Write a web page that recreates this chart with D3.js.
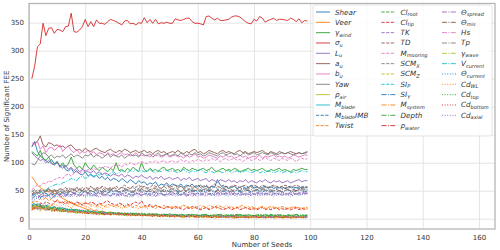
<!DOCTYPE html>
<html><head><meta charset="utf-8">
<script src="https://cdn.jsdelivr.net/npm/d3@7"></script>
<style>body{margin:0;background:#fff}svg{display:block}text{font-family:"DejaVu Sans",sans-serif}</style>
</head><body><svg id="c" width="500" height="250"></svg>
<script>
const seeds = d3.range(1, 100);
const xTicks = [0,20,40,60,80,100,120,140,160];
const yTicks = [0,50,100,150,200,250,300,350];

const labels = [
 {t:"Shear"},{t:"Veer"},{t:"γ",s:"wind"},{t:"σ",s:"u"},{t:"L",s:"u"},{t:"a",s:"u"},{t:"b",s:"u"},{t:"Yaw"},{t:"ρ",s:"air"},{t:"M",s:"blade"},{t:"M",s:"blade",a:"IMB"},{t:"Twist"},
 {t:"Cl",s:"root"},{t:"Cl",s:"tip"},{t:"TK"},{t:"TD"},{t:"M",s:"mooring"},{t:"SCM",s:"X"},{t:"SCM",s:"Z"},{t:"SI",s:"P"},{t:"SI",s:"Y"},{t:"M",s:"system"},{t:"Depth"},{t:"ρ",s:"water"},
 {t:"Θ",s:"spread"},{t:"Θ",s:"mis"},{t:"Hs"},{t:"Tp"},{t:"γ",s:"wave"},{t:"V",s:"current"},{t:"Θ",s:"current"},{t:"Cd",s:"WL"},{t:"Cd",s:"top"},{t:"Cd",s:"bottom"},{t:"Cd",s:"axial"}
];

const shear=[128,138,120,112,108,104,100,106,98,102,92,96,88,85,90,82,86,80,78,84,76,80,74,78,72,76,70,74,68,72,70,66,72,68,64,70,66,62,68,64,66,60,64,62,66,58,62,60,64,58,62,60,58,62,56,60,58,62,56,58,60,56,58,54,58,56,70,60,56,58,54,56,58,54,56,58,54,56,60,55,57,54,56,58,55,57,54,56,55,57,54,56,58,55,56,54,57,55,56];
const veer=[75,68,60,56,52,50,48,50,45,46,40,36,34,30,28,26,24,22,20,18,16,18,14,16,12,14,12,10,12,10,9,11,8,10,9,7,9,8,10,7,8,6,8,7,9,6,7,5,7,6,5,7,6,4,6,5,7,4,6,5,4,6,5,3,5,4,6,3,5,4,3,5,4,6,3,5,4,2,4,3,5,3,4,2,4,3,5,3,4,2,4,3,5,3,4,2,4,3,4];
const gammaWind=[120,116,112,122,108,104,110,100,96,102,94,100,92,98,110,96,90,94,88,100,92,88,96,90,86,92,88,84,90,86,100,86,88,84,90,86,92,88,84,100,88,84,90,86,88,84,90,92,86,88,90,86,88,84,92,88,86,90,88,86,88,90,86,88,92,86,84,88,90,86,88,86,90,88,84,86,88,90,86,88,86,88,90,86,84,88,86,88,90,86,88,86,84,88,86,88,90,88,88];
const sigmaU=[250,272,307,312,349,327,340,341,331,338,337,334,343,344,367,334,333,337,343,356,343,352,343,355,349,349,347,352,356,354,352,349,346,353,354,348,349,346,350,349,359,350,356,349,356,348,350,349,351,349,349,357,355,354,356,358,358,352,349,349,348,346,361,362,358,355,358,354,354,355,356,360,362,362,360,356,352,349,348,356,353,361,358,351,354,356,358,354,356,356,355,354,358,356,352,357,350,354,353];
const lu=[118,112,108,104,106,100,104,98,96,100,94,90,96,88,92,86,90,84,88,86,84,82,86,80,84,78,82,80,76,80,78,76,80,74,78,76,72,76,74,78,74,72,76,70,74,72,76,70,72,74,70,72,74,68,72,70,74,68,70,72,68,70,72,66,70,68,64,70,68,66,70,66,68,64,68,66,70,64,68,66,64,68,66,70,66,64,68,66,68,64,66,68,64,66,68,70,66,68,68];
const au=[130,135,138,148,132,128,136,134,130,132,128,130,126,130,132,126,122,124,120,126,122,120,124,126,122,120,118,122,124,120,118,122,120,124,122,118,120,122,118,120,122,118,120,116,120,122,118,120,116,118,120,118,122,118,116,120,118,122,124,118,120,116,118,122,120,118,116,120,122,118,120,118,116,120,122,118,120,116,118,120,118,120,122,118,116,120,118,116,120,118,116,118,120,118,116,118,116,118,120];
const bu=[136,132,138,124,130,118,126,128,122,126,132,120,126,130,122,118,124,116,120,118,122,116,120,114,118,116,112,118,114,116,112,116,118,114,116,112,114,118,112,114,112,114,110,116,112,114,110,112,116,110,112,114,110,112,108,114,110,112,116,110,112,108,110,114,112,110,108,112,110,114,110,112,108,110,114,110,112,108,110,112,110,114,108,112,110,112,114,110,112,110,112,108,110,114,112,110,112,114,113];
const yaw=[98,96,104,112,118,116,110,114,108,112,110,114,108,112,116,110,114,112,108,114,112,116,110,114,112,108,112,116,110,114,112,110,114,108,112,116,112,114,110,118,114,112,116,110,114,118,112,114,116,112,114,116,112,118,114,112,116,114,118,114,116,112,114,118,116,114,112,116,118,114,116,118,114,116,112,116,118,114,116,118,114,116,118,116,114,118,116,114,116,118,116,118,116,114,116,118,116,117,118];
const rhoAir=[22,20,24,18,20,16,18,15,17,14,16,13,15,12,14,11,13,10,12,11,10,12,9,11,8,10,9,11,8,9,8,10,7,9,8,6,8,7,9,6,7,8,6,7,5,7,6,8,5,6,7,5,6,4,6,5,7,5,4,6,5,4,6,5,3,5,4,6,4,5,4,5,3,5,4,6,4,3,5,4,5,3,4,5,3,4,5,3,4,5,3,4,5,3,4,5,3,4,4];
const mBlade=[18,22,16,20,24,18,16,20,14,18,15,17,13,16,14,12,15,11,13,12,11,13,10,12,9,11,10,8,10,9,10,8,9,7,9,8,10,7,8,6,8,7,6,8,7,5,7,6,8,5,6,7,5,6,4,6,5,7,5,4,6,5,4,6,5,4,6,5,3,5,4,6,5,3,5,4,5,3,4,5,4,3,5,4,6,4,3,5,4,3,5,4,3,5,4,3,4,5,4];
const mBladeIMB=[25,28,22,26,20,24,22,18,22,20,18,20,16,18,15,17,14,16,13,15,12,14,11,13,10,12,11,9,11,10,9,11,8,10,9,7,9,8,7,9,7,8,6,8,7,6,8,5,7,6,5,7,6,5,7,4,6,5,4,6,5,4,6,5,3,5,4,6,4,3,5,4,3,5,4,6,3,4,5,3,4,5,3,4,3,5,4,3,5,4,3,4,5,3,4,3,5,4,3];
const twist=[28,32,30,36,34,38,32,36,30,34,30,28,32,26,30,28,24,28,26,30,26,24,28,22,26,24,22,26,24,22,24,22,26,20,24,22,20,24,22,20,22,20,24,22,18,22,20,24,20,22,20,18,22,20,24,22,20,18,22,20,18,22,20,18,22,20,24,22,20,18,20,22,18,20,22,24,20,18,22,20,18,20,22,18,20,22,20,18,20,22,20,18,20,22,18,20,18,20,20];
const clRoot=[20,24,26,22,25,20,23,19,21,18,20,17,19,16,18,15,17,14,16,13,15,12,14,11,13,12,10,12,11,9,11,10,8,10,9,11,8,10,9,7,9,8,10,7,9,8,6,8,7,9,7,8,6,8,7,5,7,8,6,7,6,8,7,5,7,6,8,6,5,7,6,7,5,6,8,6,5,7,6,5,7,6,5,7,6,8,6,5,7,6,5,7,6,5,7,6,5,6,6];
const clTip=[22,26,24,28,26,30,28,24,30,32,28,30,26,32,28,26,30,28,24,28,26,30,28,24,28,26,30,32,28,26,24,28,26,22,26,24,28,30,26,32,24,22,26,20,24,22,20,18,22,20,18,22,20,18,16,20,18,22,20,18,16,18,20,16,18,22,20,18,16,18,20,16,18,20,16,18,20,18,16,18,16,18,20,16,18,16,18,20,16,18,16,18,16,18,20,16,18,17,17];
const tk=[46,42,48,44,40,46,42,48,44,46,42,46,44,48,42,46,44,42,46,48,44,46,42,48,46,44,42,46,48,44,46,42,44,48,46,44,42,46,44,48,46,44,42,46,48,44,46,42,44,46,48,44,46,42,46,44,48,46,44,46,44,46,48,44,46,42,46,48,44,46,48,44,46,44,48,46,44,46,48,44,46,48,44,46,44,48,46,44,46,48,46,44,48,46,44,46,48,46,47];
const td=[44,48,46,52,50,48,54,50,52,48,54,52,56,50,54,52,56,54,50,56,54,58,52,56,54,58,56,52,56,54,58,54,56,60,56,54,58,56,60,56,58,54,56,60,58,56,54,58,60,56,58,60,56,58,54,58,60,56,58,60,56,58,60,56,58,62,58,56,60,58,56,58,60,58,56,58,60,56,58,60,58,56,60,58,56,58,60,58,56,58,60,58,56,58,60,58,56,58,57];
const mMooring=[52,56,60,58,64,62,68,66,70,72,74,72,78,80,76,82,84,80,86,84,88,86,90,88,92,90,94,92,90,96,94,96,92,98,96,100,98,96,100,102,100,98,102,100,104,100,102,104,100,102,104,100,102,106,102,104,100,104,102,106,104,102,106,104,108,104,106,102,106,108,104,106,108,104,106,102,106,108,104,106,108,104,106,110,106,104,108,106,104,108,106,104,108,106,102,106,108,106,107];
const scmX=[50,46,52,48,44,50,54,48,52,50,54,50,48,56,52,50,54,52,56,50,52,56,54,50,54,56,52,54,50,56,54,52,56,54,50,54,56,52,54,58,54,56,52,54,56,52,54,58,54,56,52,56,54,58,54,56,52,54,56,54,56,52,54,56,54,58,54,56,52,56,54,56,58,54,56,52,56,54,56,54,56,54,52,56,54,56,58,54,56,54,56,54,56,52,54,56,54,56,55];
const scmZ=[16,18,20,14,18,15,17,13,16,14,12,15,13,11,14,12,10,13,11,9,12,10,8,11,9,10,8,9,7,9,8,7,9,6,8,7,6,8,5,7,6,7,5,6,8,5,6,4,6,5,4,6,5,3,5,4,6,4,5,3,5,4,3,5,4,6,3,4,5,3,4,3,5,4,2,4,3,5,3,4,3,4,2,4,3,5,3,4,2,3,4,3,2,4,3,4,2,3,3];
const siP=[26,22,28,24,20,24,18,22,20,17,19,16,18,15,17,14,16,13,15,12,14,11,13,10,12,9,11,10,8,10,9,8,10,7,9,8,6,8,7,6,8,6,7,5,7,6,5,7,6,4,6,5,4,6,5,3,5,4,6,4,3,5,4,3,5,4,2,4,3,5,4,3,2,4,3,5,3,2,4,3,2,4,3,2,4,3,2,3,4,2,3,2,4,3,2,3,4,2,3];
const siY=[36,40,44,38,42,46,40,44,42,46,44,48,42,46,50,44,48,46,50,48,46,50,48,44,50,48,52,46,50,48,50,46,48,52,50,48,46,50,52,48,50,48,52,50,46,50,48,52,50,48,50,52,48,50,46,50,52,50,48,50,52,48,50,52,50,48,50,52,48,50,50,48,52,50,48,50,52,50,48,50,52,50,48,50,52,48,50,52,50,48,50,52,50,48,50,52,50,48,50];
const mSystem=[20,17,22,19,24,18,21,16,19,15,17,14,16,13,15,12,14,11,13,10,12,10,11,9,12,8,10,9,7,9,8,10,7,9,6,8,7,5,7,6,5,7,6,4,6,5,3,5,4,6,4,3,5,4,2,4,3,5,3,2,4,3,2,4,3,1,3,2,4,2,3,2,1,3,2,4,2,1,3,2,1,3,2,1,3,2,1,2,3,1,2,3,1,2,1,3,2,1,2];
const depth=[24,20,18,22,19,21,17,20,16,18,15,17,14,16,13,15,12,14,11,13,10,12,11,9,11,10,8,10,9,11,9,8,10,7,9,8,10,7,8,9,7,8,6,9,7,8,6,7,8,6,7,8,6,7,5,7,8,6,7,5,6,7,8,6,5,7,6,8,6,7,5,7,6,8,6,5,7,6,7,5,6,8,6,7,5,6,7,8,6,7,6,5,7,6,8,6,7,6,7];
const rhoWater=[17,21,19,23,18,20,16,19,15,17,14,16,13,15,12,14,11,13,10,12,9,11,10,8,10,9,7,9,8,10,7,9,8,6,8,7,9,6,7,5,7,6,5,7,6,4,6,5,7,5,4,6,5,3,5,4,6,4,3,5,4,3,5,4,2,4,5,3,4,2,4,3,5,2,4,3,2,4,3,5,3,2,4,3,2,4,3,5,3,2,4,3,2,4,3,2,3,4,3];
const thetaSpread=[40,44,38,42,46,40,44,42,38,44,42,46,40,44,42,46,44,40,44,42,46,42,44,40,44,46,42,44,40,44,42,44,46,42,40,44,42,46,44,42,44,42,46,44,40,44,46,42,44,42,46,44,42,44,46,42,44,40,44,46,42,44,46,44,42,44,46,42,44,46,44,42,46,44,42,44,46,44,42,44,46,44,42,44,46,42,44,46,44,42,44,46,44,42,44,46,44,45,45];
const thetaMis=[42,46,44,50,46,48,52,46,50,48,50,46,52,48,50,54,48,52,50,48,52,50,48,54,50,52,48,52,54,50,52,48,50,54,52,50,48,52,50,54,50,52,48,52,54,50,52,48,50,52,54,50,52,48,52,50,54,52,50,52,50,52,54,50,52,48,52,50,54,52,50,52,48,52,50,54,52,50,52,50,52,50,54,52,50,52,48,52,50,52,54,52,50,52,50,52,54,52,52];
const hs=[21,19,23,17,21,18,20,16,18,15,17,14,16,13,15,12,14,12,13,11,12,10,11,9,10,12,9,8,10,9,8,9,7,8,10,7,8,6,8,7,6,8,7,5,7,6,8,5,6,7,5,6,4,6,5,7,4,5,6,4,5,4,6,3,5,4,5,6,4,3,5,4,3,5,4,2,4,5,3,4,3,5,4,3,4,2,4,3,5,3,4,3,4,5,3,4,2,4,3];
const tp=[48,52,44,50,46,52,48,44,50,46,48,52,46,50,48,46,50,52,48,50,46,50,48,52,50,46,48,50,52,48,50,48,46,50,52,48,50,46,48,52,50,48,52,46,50,48,50,52,48,50,48,50,46,50,52,48,50,48,52,50,48,50,52,48,50,46,50,48,50,52,48,50,48,52,50,48,50,52,48,50,50,48,52,50,48,50,52,48,50,48,50,52,48,50,48,50,52,50,50];
const gammaWave=[19,23,17,20,16,19,22,15,18,14,16,13,15,12,14,11,13,10,12,11,9,11,10,8,10,7,9,8,10,7,8,6,8,7,5,7,6,8,5,7,6,5,7,4,6,5,7,4,5,6,4,5,3,5,4,6,3,4,5,3,4,3,5,2,4,3,4,5,3,2,4,3,2,4,3,5,2,3,4,2,3,4,2,3,2,4,3,2,3,4,2,3,4,2,3,2,4,3,3];
const vCurrent=[40,44,48,46,52,50,56,58,60,62,60,64,66,68,72,70,68,74,76,72,74,78,76,80,78,82,80,76,82,84,80,82,86,84,82,86,84,88,84,86,84,86,88,84,82,86,84,88,86,84,86,84,82,86,88,84,82,86,84,86,88,84,82,86,84,82,86,84,82,84,86,82,84,86,82,84,86,84,82,84,86,82,84,82,86,84,82,84,86,82,84,86,82,84,82,84,86,84,84];
const thetaCurrent=[30,34,38,36,40,38,42,36,40,44,42,38,44,40,42,46,40,44,42,40,44,42,40,44,46,42,40,44,42,46,44,40,42,46,44,42,40,44,46,42,44,46,42,40,44,46,44,42,46,44,42,44,46,42,44,40,44,46,42,44,46,44,42,44,46,42,44,46,44,42,44,46,42,44,46,44,42,44,46,44,42,44,46,44,42,44,46,42,44,46,44,42,44,46,44,42,44,46,45];
const cdWL=[18,22,20,24,22,26,24,22,26,24,22,26,24,22,20,24,22,26,24,22,20,22,24,20,22,18,22,20,24,22,20,22,18,22,20,24,22,20,18,22,20,18,22,20,24,22,20,18,22,20,22,20,18,22,24,20,22,18,20,22,24,22,20,24,22,20,18,22,20,24,22,20,18,22,20,18,20,22,18,20,18,20,22,18,20,18,22,20,18,20,18,20,18,20,22,18,20,18,19];
const cdTop=[23,26,21,24,19,22,20,18,21,17,19,16,18,15,17,14,16,13,15,12,14,12,13,11,12,10,12,9,11,10,10,9,11,8,10,9,7,9,8,10,8,7,9,8,6,8,7,9,7,6,8,7,6,8,7,5,7,6,8,6,7,6,8,5,7,6,7,8,6,5,7,6,8,6,5,7,6,7,5,6,7,5,6,8,6,7,5,6,7,6,5,7,6,8,6,5,7,6,6];
const cdBottom=[15,18,20,16,19,14,17,15,13,16,14,12,15,11,13,12,10,12,9,11,10,8,11,9,7,10,8,9,7,8,7,9,6,8,7,5,7,6,8,5,6,5,7,4,6,5,4,6,5,3,5,4,6,3,5,4,3,5,4,2,4,3,5,4,2,4,3,2,4,3,2,4,3,1,3,2,4,3,2,3,4,2,3,1,3,2,3,4,2,3,2,3,1,3,2,4,2,3,2];
const cdAxial=[34,38,36,40,38,42,40,36,42,40,38,42,40,44,38,42,40,44,42,38,42,40,44,42,38,42,44,40,42,44,40,42,44,40,42,38,42,44,40,42,44,40,42,44,42,40,44,42,40,44,42,40,44,42,44,40,42,44,42,40,44,42,40,44,42,44,40,42,44,42,40,44,42,40,44,42,44,40,42,44,42,40,44,42,44,42,40,44,42,44,42,44,40,42,44,42,44,43,44];

const seriesValues = [shear,veer,gammaWind,sigmaU,lu,au,bu,yaw,rhoAir,mBlade,mBladeIMB,twist,
  clRoot,clTip,tk,td,mMooring,scmX,scmZ,siP,siY,mSystem,depth,rhoWater,
  thetaSpread,thetaMis,hs,tp,gammaWave,vCurrent,thetaCurrent,cdWL,cdTop,cdBottom,cdAxial];

const colors = ["#1f77b4","#ff7f0e","#2ca02c","#d62728","#9467bd","#8c564b","#e377c2","#7f7f7f","#bcbd22","#17becf"];
const dashes = [null,"3.2,1.4","5,1.4,1,1.4","1,1.6"];
const style = i => ({c: colors[i%10], d: dashes[Math.floor(i/10)]});

const L=29, R=495, T=3.5, B=229;
const svg = d3.select("#c");
const x = d3.scaleLinear().domain([0,165.7]).range([L,R]);
const y = d3.scaleLinear().domain([-18.3,384.3]).range([B,T]);

// grid
svg.append("g").attr("transform",`translate(0,${B})`)
  .call(d3.axisBottom(x).tickValues(xTicks).tickSize(-(B-T)).tickFormat(""))
  .call(g=>{g.select(".domain").remove();g.selectAll("line").attr("stroke","#e2e2e2").attr("stroke-width",0.9);});
svg.append("g").attr("transform",`translate(${L},0)`)
  .call(d3.axisLeft(y).tickValues(yTicks).tickSize(-(R-L)).tickFormat(""))
  .call(g=>{g.select(".domain").remove();g.selectAll("line").attr("stroke","#e2e2e2").attr("stroke-width",0.9);});

// lines
const line = d3.line().x((d,i)=>x(seeds[i])).y(d=>y(d));
const plot = svg.append("g");
seriesValues.forEach((vals,i)=>{
  const s=style(i);
  plot.append("path").attr("d",line(vals)).attr("fill","none")
    .attr("stroke",s.c).attr("stroke-width",0.9).attr("stroke-dasharray",s.d);
});

// spines
svg.append("rect").attr("x",L).attr("y",T).attr("width",R-L).attr("height",B-T)
  .attr("fill","none").attr("stroke","#b5b5b5").attr("stroke-width",1.3);

// tick labels
svg.append("g").attr("transform",`translate(0,${B})`)
  .call(d3.axisBottom(x).tickValues(xTicks).tickSize(0).tickPadding(6))
  .call(g=>{g.select(".domain").remove();g.selectAll("text").attr("font-size",7).attr("fill","#333").attr("font-family","DejaVu Sans");});
svg.append("g").attr("transform",`translate(${L},0)`)
  .call(d3.axisLeft(y).tickValues(yTicks).tickSize(0).tickPadding(5))
  .call(g=>{g.select(".domain").remove();g.selectAll("text").attr("font-size",7).attr("fill","#333").attr("font-family","DejaVu Sans");});

// axis titles
svg.append("text").attr("x",(L+R)/2).attr("y",247).attr("text-anchor","middle")
  .attr("font-size",7).attr("fill","#333").text("Number of Seeds");
svg.append("text").attr("transform",`translate(8.5,${(T+B)/2}) rotate(-90)`).attr("text-anchor","middle")
  .attr("font-size",7).attr("fill","#333").text("Number of Significant FEE");

// legend
const lg = svg.append("g");
lg.append("rect").attr("x",313).attr("y",5).attr("width",179).attr("height",131).attr("rx",2)
  .attr("fill","#fff").attr("fill-opacity",0.85).attr("stroke","#dddddd").attr("stroke-width",0.8);
const colX=[316,381.5,442], rowH=10.33, row0=12;
labels.forEach((lab,i)=>{
  const col = i<12?0:(i<24?1:2), row = i<12?i:(i<24?i-12:i-24);
  const cy = row0 + row*rowH, s=style(i);
  lg.append("line").attr("x1",colX[col]).attr("x2",colX[col]+14).attr("y1",cy).attr("y2",cy)
    .attr("stroke",s.c).attr("stroke-width",0.9).attr("stroke-dasharray",s.d);
  const t = lg.append("text").attr("x",colX[col]+19).attr("y",cy+2.5)
    .attr("font-size",7.2).attr("font-style","italic").attr("fill","#333");
  t.append("tspan").text(lab.t);
  if(lab.s){ t.append("tspan").attr("font-size",5).attr("dy",1.6).text(lab.s); }
  if(lab.a){ t.append("tspan").attr("font-size",7.2).attr("dy",-1.6).text(lab.a); }
});
</script></body></html>
